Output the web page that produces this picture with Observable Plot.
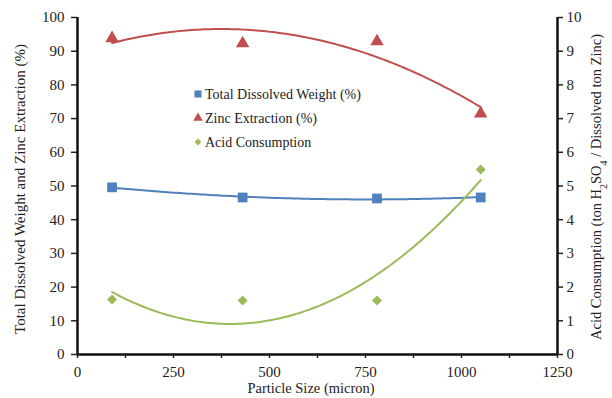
<!DOCTYPE html>
<html>
<head>
<meta charset="utf-8">
<script src="https://cdn.jsdelivr.net/npm/d3@7"></script>
<script src="https://cdn.jsdelivr.net/npm/@observablehq/plot@0.6"></script>
<style>
  html, body { margin: 0; padding: 0; background: #fff; }
  #chart { width: 612px; height: 398px; }
  #chart svg, #chart svg text { font-family: 'Liberation Serif', 'Times New Roman', Times, serif !important; }
  #chart svg text { font-size: 15px; fill: #222; }
</style>
</head>
<body>
<div id="chart"></div>
<script>
// ---- data ----
const particleSize = [90, 430, 780, 1050];           // micron
const totalDissolved = [49.6, 46.6, 46.3, 46.6];      // %
const zincExtraction = [93.8, 92.3, 92.9, 71.5];      // %
const acidConsumption = [1.63, 1.60, 1.60, 5.49];     // ton H2SO4 / ton Zn
const xTicks = [0, 250, 500, 750, 1000, 1250];
const yLeftTicks = [0, 10, 20, 30, 40, 50, 60, 70, 80, 90, 100];
const yRightTicks = [0, 1, 2, 3, 4, 5, 6, 7, 8, 9, 10];
const seriesNames = ["Total Dissolved Weight (%)", "Zinc Extraction (%)", "Acid Consumption"];
const seriesColors = ["#4F81BD", "#C0504D", "#9BBB59"];

const rightScale = 10; // right axis 0–10 maps onto left 0–100

// quadratic least-squares trendline (as in the source's polynomial trendline)
function quadFit(xs, ys) {
  const n = xs.length;
  let S = [0,0,0,0,0], T = [0,0,0];
  for (let i = 0; i < n; i++) {
    const x = xs[i], y = ys[i];
    for (let k = 0; k <= 4; k++) S[k] += Math.pow(x, k);
    for (let k = 0; k <= 2; k++) T[k] += y * Math.pow(x, k);
  }
  const A = [[S[0],S[1],S[2],T[0]],[S[1],S[2],S[3],T[1]],[S[2],S[3],S[4],T[2]]];
  for (let i = 0; i < 3; i++) {
    let p = i; for (let r = i+1; r < 3; r++) if (Math.abs(A[r][i]) > Math.abs(A[p][i])) p = r;
    [A[i], A[p]] = [A[p], A[i]];
    for (let r = 0; r < 3; r++) if (r !== i) {
      const f = A[r][i] / A[i][i];
      for (let c = i; c < 4; c++) A[r][c] -= f * A[i][c];
    }
  }
  const c = [A[0][3]/A[0][0], A[1][3]/A[1][1], A[2][3]/A[2][2]];
  return x => c[0] + c[1]*x + c[2]*x*x;
}
const x0 = d3.min(particleSize), x1 = d3.max(particleSize);
const grid = d3.range(x0, x1 + 0.001, (x1 - x0) / 120);
function trend(ys, scale = 1) {
  const f = quadFit(particleSize, ys);
  return grid.map(x => ({x, y: f(x) * scale}));
}
const pts = (ys, scale = 1) => particleSize.map((x, i) => ({x, y: ys[i] * scale}));

const plot = Plot.plot({
  width: 612,
  height: 398,
  marginLeft: 77,
  marginRight: 55,
  marginTop: 17,
  marginBottom: 44,
  style: {fontFamily: "'Liberation Serif', 'Times New Roman', serif", fontSize: "15px", color: "#222"},
  x: {domain: [0, 1250]},
  y: {domain: [0, 100]},
  marks: [
    Plot.axisX({ticks: d3.range(0, 1251, 125), tickSize: 4, tickFormat: () => "", label: null, strokeWidth: 1.5}),
    Plot.axisX({ticks: xTicks, tickSize: 0, tickPadding: 12, tickFormat: d => String(d), label: null}),
    Plot.axisY({ticks: yLeftTicks, tickSize: 6, tickPadding: 7, tickFormat: d => String(d), label: null, strokeWidth: 1.5}),
    Plot.axisY({anchor: "right", ticks: yRightTicks.map(v => v * rightScale), tickFormat: d => String(d / rightScale),
                tickSize: 5, tickPadding: 4, label: null, strokeWidth: 1.5}),
    Plot.ruleX([0, 1250], {stroke: "#111", strokeWidth: 2.5}),
    Plot.ruleY([0], {stroke: "#111", strokeWidth: 2.5}),
    Plot.line(trend(zincExtraction), {x: "x", y: "y", stroke: seriesColors[1], strokeWidth: 2}),
    Plot.line(trend(totalDissolved), {x: "x", y: "y", stroke: seriesColors[0], strokeWidth: 2}),
    Plot.line(trend(acidConsumption, rightScale), {x: "x", y: "y", stroke: seriesColors[2], strokeWidth: 2}),
    Plot.dot(pts(totalDissolved), {x: "x", y: "y", symbol: "square", r: 5.5, fill: seriesColors[0]}),
    Plot.dot(pts(zincExtraction), {x: "x", y: "y", symbol: "triangle", r: 5, fill: seriesColors[1]}),
    Plot.dot(pts(acidConsumption, rightScale), {x: "x", y: "y", symbol: "diamond2", r: 4.5, fill: seriesColors[2]})
  ]
});
document.getElementById("chart").appendChild(plot);

// axis titles and legend
const svg = d3.select(plot);
function styled(sel, size) {
  return sel.attr("style", `font-size:${size}px; fill:#222`);
}

styled(svg.append("text"), 14.5)
  .attr("text-anchor", "middle")
  .attr("transform", "translate(311,393)")
  .text("Particle Size (micron)");

styled(svg.append("text"), 15)
  .attr("text-anchor", "middle")
  .attr("transform", "translate(25,189) rotate(-90)")
  .text("Total Dissolved Weight and Zinc Extraction (%)");

const rt = styled(svg.append("text"), 14.5)
  .attr("text-anchor", "middle")
  .attr("transform", "translate(601,187) rotate(-90)");
rt.append("tspan").text("Acid Consumption (ton H");
rt.append("tspan").attr("baseline-shift", "sub").attr("style", "font-size:10px").text("2");
rt.append("tspan").text("SO");
rt.append("tspan").attr("baseline-shift", "sub").attr("style", "font-size:10px").text("4");
rt.append("tspan").text(" / Dissolved ton Zinc)");

const legend = svg.append("g");
const symbols = [d3.symbolSquare, d3.symbolTriangle, d3.symbolDiamond2];
const symSize = [50, 40, 30];
seriesNames.forEach((name, i) => {
  const y = 94 + i * 24;
  legend.append("path")
    .attr("d", d3.symbol(symbols[i], symSize[i])())
    .attr("transform", `translate(198,${y})`)
    .attr("fill", seriesColors[i]);
  styled(legend.append("text"), 14)
    .attr("text-anchor", "start")
    .attr("x", 205).attr("y", y).attr("dy", "0.35em")
    .text(name);
});
</script>
</body>
</html>
